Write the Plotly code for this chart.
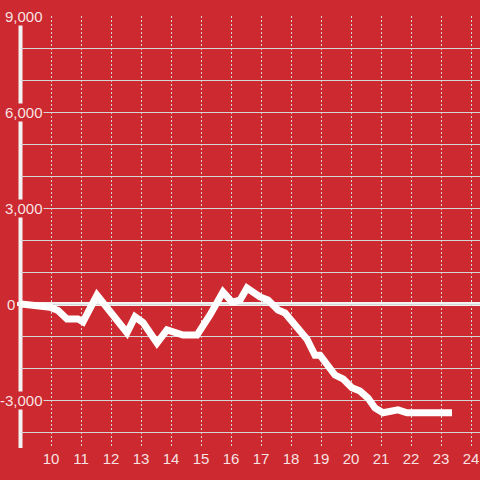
import plotly.graph_objects as go

# Data (hour of day, value)
hours = [9.0, 9.533, 9.967, 10.233, 10.533, 10.9, 11.067, 11.533, 11.967, 12.533,
         12.8, 13.067, 13.533, 13.867, 14.4, 14.867, 15.3, 15.733, 16.033, 16.3,
         16.533, 16.967, 17.233, 17.567, 17.8, 18.3, 18.533, 18.8, 18.967, 19.467,
         19.733, 20.033, 20.3, 20.567, 20.8, 21.067, 21.567, 21.867, 23.367]
values = [0, -30, -100, -200, -470, -470, -560, 280, -250, -900,
          -400, -580, -1220, -810, -970, -970, -340, 375, 60, 120,
          500, 220, 125, -190, -280, -810, -1100, -1600, -1600, -2220,
          -2340, -2620, -2720, -2940, -3250, -3400, -3310, -3400, -3400]

x_ticks = list(range(10, 25))
x_tick_labels = [str(v) for v in x_ticks]
y_label_values = [9000, 6000, 3000, 0, -3000]
y_label_texts = ["9,000", "6,000", "3,000", "0", "-3,000"]

BG = "#cc2a30"
GRID = "#d6d6d6"
TXT = "rgba(255,255,255,0.88)"
FONT = "Liberation Sans, Arial, sans-serif"

fig = go.Figure()
fig.add_trace(go.Scatter(x=hours, y=values, mode="lines",
                         line=dict(color="white", width=7),
                         hoverinfo="skip", showlegend=False))

W = 480
L = 21
plot_w = W - L

# zero line (slightly extends left of the plot)
fig.add_shape(type="line", xref="paper", yref="y",
              x0=-4 / plot_w, x1=1, y0=0, y1=0,
              line=dict(color="#f2f2f2", width=4), layer="between")
# thick y-axis line
fig.add_shape(type="line", xref="paper", yref="y",
              x0=-0.5 / plot_w, x1=-0.5 / plot_w, y0=-4500, y1=9000,
              line=dict(color="#f2f2f2", width=4), layer="between")

for v, t in zip(y_label_values, y_label_texts):
    right_px = 16 if v == 0 else 44
    fig.add_annotation(xref="paper", yref="y", x=(right_px - L) / plot_w, y=v,
                       text=t, showarrow=False, xanchor="right", yanchor="middle",
                       bgcolor=BG, borderpad=0,
                       font=dict(family=FONT, size=15, color=TXT))

fig.update_layout(
    width=480, height=480, autosize=False,
    margin=dict(l=L, r=0, t=16, b=32, pad=0),
    paper_bgcolor=BG, plot_bgcolor=BG,
    xaxis=dict(range=[9, 24.3], tickvals=x_ticks, ticktext=x_tick_labels,
               showgrid=True, gridcolor=GRID, gridwidth=1, griddash="2px,2px",
               zeroline=False, showline=False, ticks="",
               tickfont=dict(family=FONT, size=15, color=TXT)),
    yaxis=dict(range=[-4500, 9000], tick0=0, dtick=1000,
               showgrid=True, gridcolor=GRID, gridwidth=1,
               zeroline=False, showline=False, showticklabels=False, ticks=""),
)

fig.write_html("out.html", config={"displayModeBar": False},
               post_script="document.body.style.margin='0';document.body.style.background='" + BG + "';")
